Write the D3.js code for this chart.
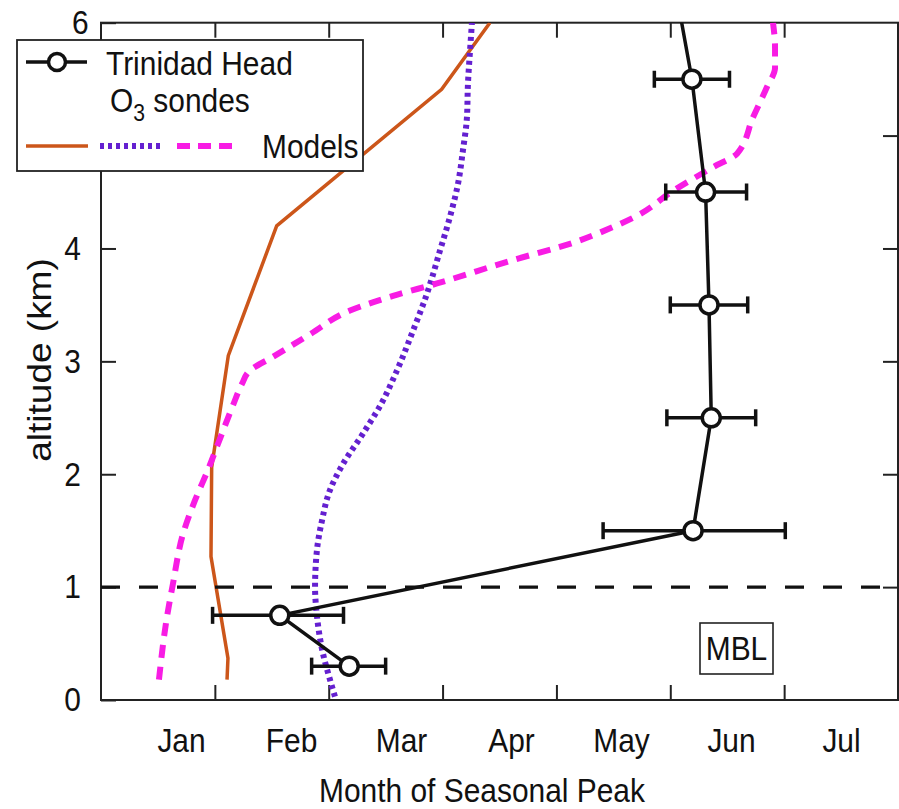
<!DOCTYPE html>
<html>
<head>
<meta charset="utf-8">
<script src="https://cdn.jsdelivr.net/npm/d3@7"></script>
<style>
  body { margin: 0; background: #fff; }
  text { font-family: "Liberation Sans", Arial, sans-serif; fill: #111; }
</style>
</head>
<body>
<div id="chart"></div>
<script>
// altitude (km) and position on the month-of-peak axis (months from the left edge)
const sondeAlt = [0.3, 0.75, 1.5, 2.5, 3.5, 4.5, 5.5, 6.5];
const sondePeak = [2.18, 1.57, 5.2, 5.36, 5.34, 5.31, 5.19, 5.01];
const sondeLow = [1.85, 0.98, 4.41, 4.97, 5.0, 4.96, 4.86, 4.7];
const sondeHigh = [2.5, 2.13, 6.01, 5.75, 5.68, 5.67, 5.52, 5.35];

const orangeAlt = [0.18, 0.37, 1.27, 2.06, 3.05, 4.2, 5.41, 6.0];
const orangePeak = [1.107, 1.115, 0.966, 0.972, 1.118, 1.543, 2.992, 3.416];

const purpleAlt = [0.03, 0.18, 0.41, 0.74, 1.0, 1.33, 1.59, 1.86, 2.09, 2.36, 2.62, 2.92,
  3.27, 3.6, 3.98, 4.28, 4.57, 4.87, 5.16, 5.46, 5.75, 6.0];
const purplePeak = [2.055, 2.011, 1.95, 1.897, 1.88, 1.897, 1.941, 2.011, 2.125, 2.301, 2.459, 2.6,
  2.74, 2.863, 2.977, 3.065, 3.135, 3.179, 3.214, 3.223, 3.241, 3.258];

const magentaAlt = [0.18, 0.74, 1.03, 1.47, 1.77, 2.04, 2.27, 2.61, 2.8, 2.92, 3.04, 3.24, 3.45,
  3.58, 3.69, 3.89, 4.05, 4.19, 4.29, 4.51, 4.72, 4.84, 5.16, 5.43, 5.6, 5.78, 6.0];
const magentaPeak = [0.509, 0.58, 0.632, 0.72, 0.826, 0.94, 1.028, 1.159, 1.238, 1.309, 1.511, 1.836, 2.187,
  2.565, 2.951, 3.592, 4.145, 4.497, 4.708, 5.024, 5.375, 5.586, 5.726, 5.849, 5.92, 5.92, 5.902];

const monthLabels = ['Jan', 'Feb', 'Mar', 'Apr', 'May', 'Jun', 'Jul'];
const monthTicks = [1, 2, 3, 4, 5, 6];
const altTicks = [0, 1, 2, 3, 4, 5, 6];
const mblTop = 1;

const width = 899;
const height = 809;
const sx = 0.88; // text in the figure is slightly condensed

const orange = '#cc561a';
const purple = '#6420d0';
const magenta = '#f81ce4';

const svg = d3.select('#chart')
  .append('svg')
  .attr('width', width)
  .attr('height', height);

const x = d3.scaleLinear().domain([0, 7]).range([101, 898]);
const y = d3.scaleLinear().domain([0, 6]).range([700, 22.7]);
const mx = d3.scalePoint().domain(monthLabels).range([181, 841]);

svg.append('clipPath')
  .attr('id', 'plot')
  .append('rect')
  .attr('x', x(0))
  .attr('y', y(6))
  .attr('width', x(7) - x(0))
  .attr('height', y(0) - y(6));

function styleAxis(g) {
  g.select('.domain').remove();
  g.attr('font-size', null).attr('font-family', null);
  g.selectAll('line').attr('stroke', '#222').attr('stroke-width', 2);
  g.selectAll('text')
    .style('font-size', '34px')
    .attr('fill', '#111')
    .attr('transform', `scale(${sx},1)`);
}

// ticks on all four sides, pointing inward
svg.append('g')
  .attr('transform', `translate(0,${y(0)})`)
  .call(d3.axisBottom(x).tickValues(monthTicks).tickSize(-15).tickFormat(''))
  .call(styleAxis);

svg.append('g')
  .attr('transform', `translate(0,${y(6)})`)
  .call(d3.axisTop(x).tickValues(monthTicks).tickSize(-15).tickFormat(''))
  .call(styleAxis);

svg.append('g')
  .attr('transform', `translate(${x(7)},0)`)
  .call(d3.axisRight(y).tickValues(altTicks.slice(1, -1)).tickSize(-15).tickFormat(''))
  .call(styleAxis);

const yAxis = svg.append('g')
  .attr('transform', `translate(${x(0)},0)`)
  .call(d3.axisLeft(y).tickValues(altTicks).tickSize(-15).tickPadding(23).tickFormat(d3.format('d')))
  .call(styleAxis);
yAxis.selectAll('.tick')
  .filter(d => d === 6)
  .select('text')
  .attr('x', -14);

// month names
svg.append('g')
  .attr('transform', `translate(0,${y(0)})`)
  .call(d3.axisBottom(mx).tickSize(0).tickPadding(28))
  .call(styleAxis);

// frame
svg.append('rect')
  .attr('x', x(0))
  .attr('y', y(6))
  .attr('width', x(7) - x(0))
  .attr('height', y(0) - y(6))
  .attr('fill', 'none')
  .attr('stroke', '#222')
  .attr('stroke-width', 2);

const plot = svg.append('g').attr('clip-path', 'url(#plot)');

const line = d3.line()
  .x(d => x(d[1]))
  .y(d => y(d[0]));

plot.append('path')
  .datum(d3.zip(orangeAlt, orangePeak))
  .attr('d', line)
  .attr('fill', 'none')
  .attr('stroke', orange)
  .attr('stroke-width', 3.5);

plot.append('path')
  .datum(d3.zip(purpleAlt, purplePeak))
  .attr('d', line.curve(d3.curveMonotoneY))
  .attr('fill', 'none')
  .attr('stroke', purple)
  .attr('stroke-width', 6)
  .attr('stroke-dasharray', '4,4');

plot.append('path')
  .datum(d3.zip(magentaAlt, magentaPeak))
  .attr('d', line.curve(d3.curveMonotoneY))
  .attr('fill', 'none')
  .attr('stroke', magenta)
  .attr('stroke-width', 6)
  .attr('stroke-dasharray', '13,9');

// top of the marine boundary layer
plot.append('line')
  .attr('x1', x(0))
  .attr('x2', x(7))
  .attr('y1', y(mblTop))
  .attr('y2', y(mblTop))
  .attr('stroke', '#111')
  .attr('stroke-width', 3.2)
  .attr('stroke-dasharray', '19,19');

// sondes: line, error bars, markers
const sondes = sondeAlt.map((a, i) => ({ a, m: sondePeak[i], lo: sondeLow[i], hi: sondeHigh[i] }));

plot.append('path')
  .datum(sondes)
  .attr('d', d3.line().x(d => x(d.m)).y(d => y(d.a)))
  .attr('fill', 'none')
  .attr('stroke', '#111')
  .attr('stroke-width', 3.5);

const bars = plot.selectAll('.err')
  .data(sondes)
  .enter()
  .append('g')
  .attr('class', 'err')
  .attr('stroke', '#111')
  .attr('stroke-width', 3.5);

bars.append('line')
  .attr('x1', d => x(d.lo))
  .attr('x2', d => x(d.hi))
  .attr('y1', d => y(d.a))
  .attr('y2', d => y(d.a));

bars.append('line')
  .attr('x1', d => x(d.lo))
  .attr('x2', d => x(d.lo))
  .attr('y1', d => y(d.a) - 8.5)
  .attr('y2', d => y(d.a) + 8.5);

bars.append('line')
  .attr('x1', d => x(d.hi))
  .attr('x2', d => x(d.hi))
  .attr('y1', d => y(d.a) - 8.5)
  .attr('y2', d => y(d.a) + 8.5);

plot.selectAll('.pt')
  .data(sondes)
  .enter()
  .append('circle')
  .attr('class', 'pt')
  .attr('cx', d => x(d.m))
  .attr('cy', d => y(d.a))
  .attr('r', 9)
  .attr('fill', '#fff')
  .attr('stroke', '#111')
  .attr('stroke-width', 3.5);

// MBL label
svg.append('rect')
  .attr('x', 700)
  .attr('y', 623)
  .attr('width', 73)
  .attr('height', 51)
  .attr('fill', '#fff')
  .attr('stroke', '#222')
  .attr('stroke-width', 1.6);

svg.append('text')
  .attr('transform', `translate(736.5,660) scale(${sx},1)`)
  .attr('text-anchor', 'middle')
  .style('font-size', '34px')
  .text('MBL');

// legend
const legend = svg.append('g');

legend.append('rect')
  .attr('x', 17)
  .attr('y', 40)
  .attr('width', 346)
  .attr('height', 131)
  .attr('fill', '#fff')
  .attr('stroke', '#222')
  .attr('stroke-width', 1.8);

legend.append('line')
  .attr('x1', 26).attr('x2', 87)
  .attr('y1', 62).attr('y2', 62)
  .attr('stroke', '#111')
  .attr('stroke-width', 3.5);

legend.append('circle')
  .attr('cx', 57)
  .attr('cy', 62)
  .attr('r', 8.5)
  .attr('fill', '#fff')
  .attr('stroke', '#111')
  .attr('stroke-width', 3.5);

legend.append('text')
  .attr('transform', `translate(106,75) scale(${sx},1)`)
  .style('font-size', '34px')
  .text('Trinidad Head');

const o3 = legend.append('text')
  .attr('transform', `translate(110,112) scale(${sx},1)`)
  .style('font-size', '34px');
o3.append('tspan').text('O');
o3.append('tspan').attr('dy', 9).style('font-size', '24px').text('3');
o3.append('tspan').attr('dy', -9).text(' sondes');

const models = [
  { x1: 26, x2: 88, color: orange, w: 3.5, dash: null },
  { x1: 100, x2: 163, color: purple, w: 6, dash: '4,4' },
  { x1: 177, x2: 232, color: magenta, w: 6, dash: '13,8' }
];

legend.selectAll('.model')
  .data(models)
  .enter()
  .append('line')
  .attr('class', 'model')
  .attr('x1', d => d.x1)
  .attr('x2', d => d.x2)
  .attr('y1', 146)
  .attr('y2', 146)
  .attr('stroke', d => d.color)
  .attr('stroke-width', d => d.w)
  .attr('stroke-dasharray', d => d.dash);

legend.append('text')
  .attr('transform', `translate(262,158) scale(${sx},1)`)
  .style('font-size', '34px')
  .text('Models');

// axis titles
svg.append('text')
  .attr('transform', `translate(482,802) scale(${sx},1)`)
  .attr('text-anchor', 'middle')
  .style('font-size', '34px')
  .text('Month of Seasonal Peak');

svg.append('text')
  .attr('transform', `translate(51,360) scale(${sx},1) rotate(-90)`)
  .attr('text-anchor', 'middle')
  .style('font-size', '37px')
  .text('altitude (km)');
</script>
</body>
</html>
